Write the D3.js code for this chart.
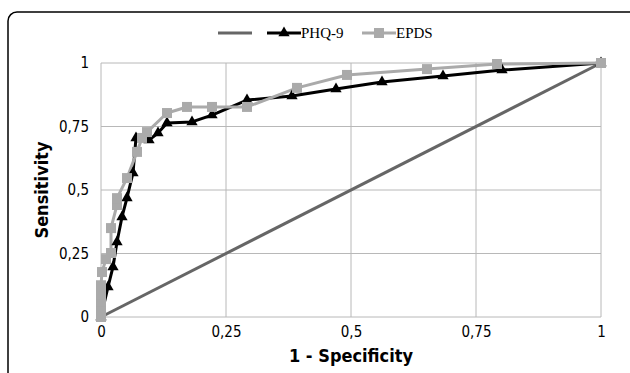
<!DOCTYPE html>
<html>
<head>
<meta charset="utf-8">
<script src="https://cdn.jsdelivr.net/npm/d3@7"></script>
<style>
  body { margin: 0; background: #fff; }
  svg { display: block; }
  .tick-label { font-family: "Liberation Sans Narrow", "DejaVu Sans Condensed", "Open Sans", sans-serif; font-size: 15px; fill: #000; }
  .axis-title { font-family: "Liberation Sans Narrow", "DejaVu Sans Condensed", "Open Sans", sans-serif; font-size: 18px; font-weight: bold; fill: #000; }
  .legend-text { font-family: "Liberation Serif", "DejaVu Serif", serif; font-size: 15px; fill: #000; }
</style>
</head>
<body>
<svg id="chart"></svg>
<script>
const WIDTH = 630, HEIGHT = 373;

// tick values and labels
const ticks = [0, 0.25, 0.5, 0.75, 1];
const tickLabels = ['0', '0,25', '0,5', '0,75', '1'];

// reference diagonal
const refX = [0, 1];
const refY = [0, 1];

// PHQ-9 (1 - specificity, sensitivity)
const phqX = [0, 0.014, 0.024, 0.032, 0.042, 0.052, 0.064, 0.070, 0.096, 0.114, 0.132, 0.182, 0.222, 0.292, 0.382, 0.470, 0.562, 0.684, 0.802, 1];
const phqY = [0, 0.118, 0.197, 0.295, 0.394, 0.469, 0.567, 0.705, 0.697, 0.724, 0.764, 0.768, 0.795, 0.854, 0.870, 0.898, 0.925, 0.949, 0.972, 1];

// EPDS
const epdsX = [0, 0, 0, 0, 0, 0.002, 0.010, 0.020, 0.020, 0.032, 0.032, 0.052, 0.072, 0.082, 0.092, 0.132, 0.172, 0.222, 0.292, 0.392, 0.492, 0.652, 0.792, 1];
const epdsY = [0, 0.03, 0.06, 0.09, 0.125, 0.177, 0.228, 0.252, 0.35, 0.441, 0.468, 0.547, 0.65, 0.705, 0.728, 0.803, 0.827, 0.827, 0.827, 0.902, 0.953, 0.976, 0.996, 1];

const zip = (xs, ys) => xs.map((v, i) => ({x: v, y: ys[i]}));
const series = [
  {name: '', data: zip(refX, refY), color: '#666666', marker: null},
  {name: 'PHQ-9', data: zip(phqX, phqY), color: '#000000', marker: 'triangle'},
  {name: 'EPDS', data: zip(epdsX, epdsY), color: '#aaaaaa', marker: 'square'}
];

const margin = {top: 63, right: 29, bottom: 56, left: 101};
const width = WIDTH - margin.left - margin.right,
  height = HEIGHT - margin.top - margin.bottom;

const x = d3.scaleLinear().domain([0, 1]).range([0, width]);
const y = d3.scaleLinear().domain([0, 1]).range([height, 0]);

const svg = d3.select('#chart')
  .attr('width', WIDTH)
  .attr('height', HEIGHT)
  .attr('viewBox', [0, 0, WIDTH, HEIGHT]);

// outer frame (cut off on right and bottom)
svg.append('rect')
  .attr('x', 8).attr('y', 12)
  .attr('width', 650).attr('height', 400)
  .attr('rx', 9)
  .attr('fill', 'none')
  .attr('stroke', '#000')
  .attr('stroke-width', 1.5);

const g = svg.append('g')
  .attr('transform', `translate(${margin.left},${margin.top})`);

// grid
g.selectAll('.vgrid').data(ticks).enter().append('line')
  .attr('x1', d => x(d)).attr('x2', d => x(d))
  .attr('y1', 0).attr('y2', height)
  .attr('stroke', '#b8b8b8').attr('stroke-width', 1);
g.selectAll('.hgrid').data(ticks).enter().append('line')
  .attr('x1', 0).attr('x2', width)
  .attr('y1', d => y(d)).attr('y2', d => y(d))
  .attr('stroke', '#b8b8b8').attr('stroke-width', 1);

// tick labels
const xAxis = d3.axisBottom(x).tickValues(ticks).tickFormat((d, i) => tickLabels[i]).tickSize(0).tickPadding(9);
const yAxis = d3.axisLeft(y).tickValues(ticks).tickFormat((d, i) => tickLabels[i]).tickSize(0).tickPadding(12);

const gx = g.append('g').attr('transform', `translate(0,${height})`).call(xAxis);
const gy = g.append('g').call(yAxis);
[gx, gy].forEach(a => {
  a.select('.domain').remove();
  a.selectAll('text').attr('class', 'tick-label').attr('font-family', null).attr('font-size', null);
});

// axis titles
svg.append('text')
  .attr('class', 'axis-title')
  .attr('x', margin.left + width / 2)
  .attr('y', 362)
  .attr('text-anchor', 'middle')
  .text('1 - Specificity');
svg.append('text')
  .attr('class', 'axis-title')
  .attr('transform', `translate(48,${margin.top + height / 2}) rotate(-90)`)
  .attr('text-anchor', 'middle')
  .text('Sensitivity');

// lines
const line = d3.line().x(d => x(d.x)).y(d => y(d.y));
g.selectAll('.series').data(series).enter().append('path')
  .attr('d', d => line(d.data))
  .attr('fill', 'none')
  .attr('stroke', d => d.color)
  .attr('stroke-width', 3)
  .attr('stroke-linejoin', 'round');

const triangle = d3.symbol().type(d3.symbolTriangle).size(55);
const square = d3.symbol().type(d3.symbolSquare).size(100);

// markers
series.filter(s => s.marker).forEach(s => {
  g.selectAll(null).data(s.data).enter().append('path')
    .attr('d', s.marker === 'triangle' ? triangle() : square())
    .attr('transform', d => `translate(${x(d.x)},${y(d.y)})`)
    .attr('fill', s.color);
});

// legend
const legendItems = [
  {s: series[0], lx: 218},
  {s: series[1], lx: 267},
  {s: series[2], lx: 362}
];
const lg = svg.append('g').attr('transform', 'translate(0,33)');
legendItems.forEach(it => {
  lg.append('line')
    .attr('x1', it.lx).attr('x2', it.lx + 34)
    .attr('y1', 0).attr('y2', 0)
    .attr('stroke', it.s.color).attr('stroke-width', 3);
  if (it.s.marker) {
    lg.append('path')
      .attr('d', it.s.marker === 'triangle' ? triangle() : square())
      .attr('transform', `translate(${it.lx + 17},0)`)
      .attr('fill', it.s.color);
    lg.append('text')
      .attr('class', 'legend-text')
      .attr('x', it.lx + 34)
      .attr('y', 5)
      .text(it.s.name);
  }
});
</script>
</body>
</html>
